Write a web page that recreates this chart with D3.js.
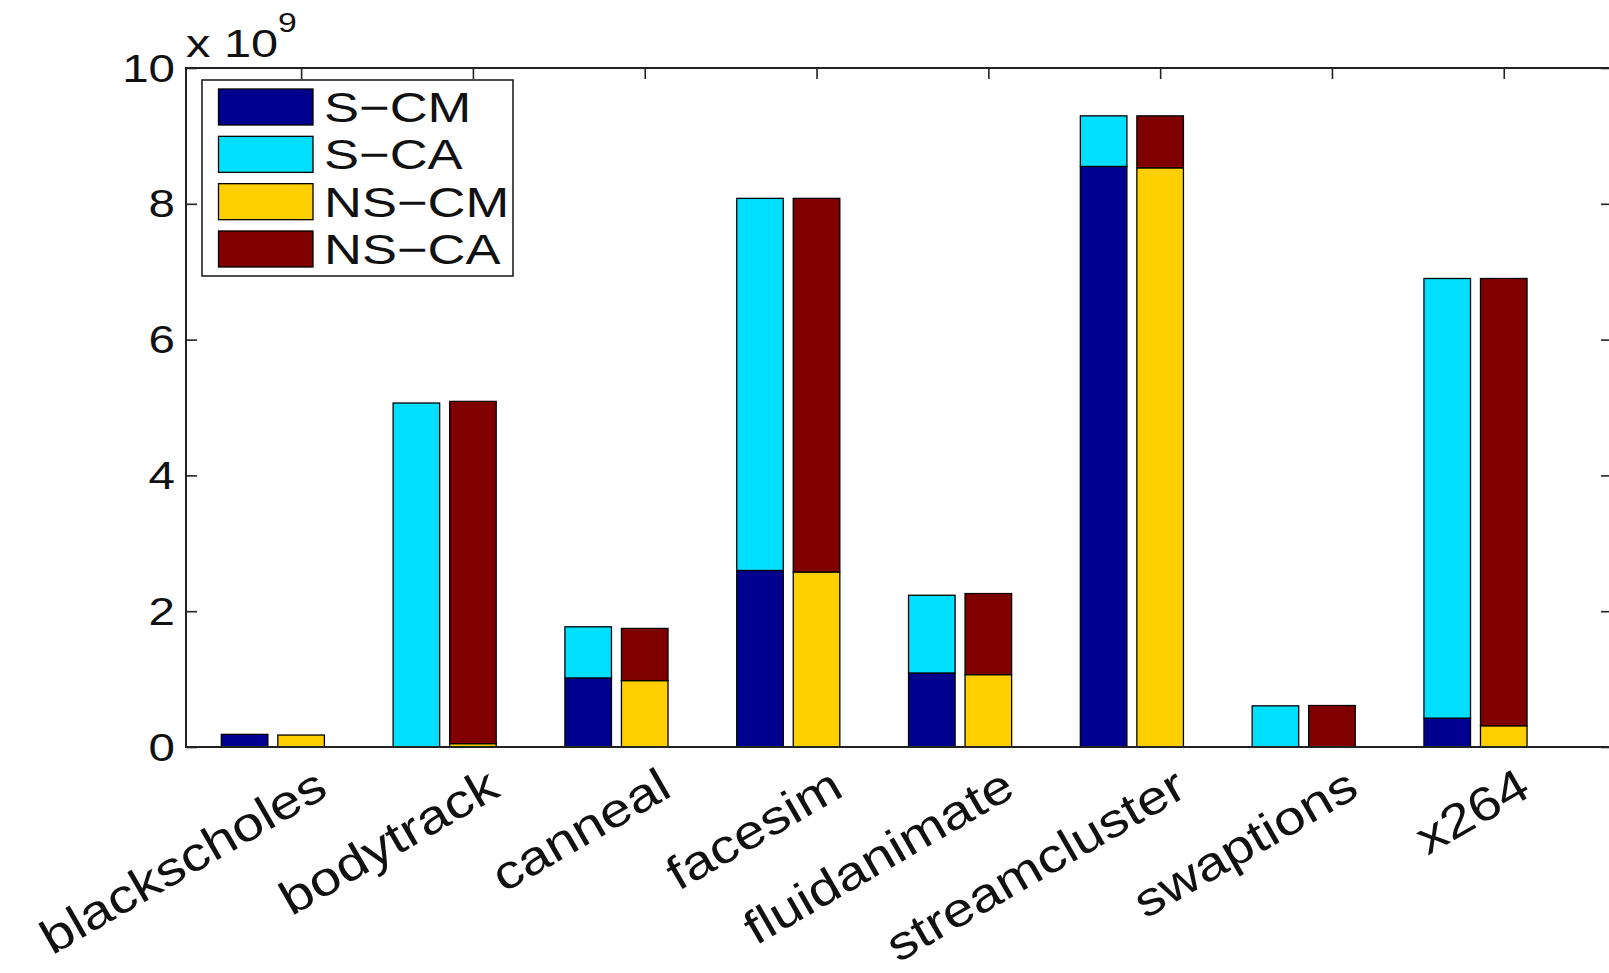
<!DOCTYPE html>
<html>
<head>
<meta charset="utf-8">
<script src="https://cdn.jsdelivr.net/npm/d3@7"></script>
<style>
  html, body { margin: 0; padding: 0; background: #fff; }
  svg { display: block; }
  text { font-family: "Liberation Sans", Arial, Helvetica, sans-serif; fill: #111; }
</style>
</head>
<body>
<svg id="chart" width="1609" height="973"></svg>
<script>
// ---- data (values in units of 10^9) ----
const categories = ["blackscholes", "bodytrack", "canneal", "facesim", "fluidanimate", "streamcluster", "swaptions", "x264"];
const seriesNames = ["S−CM", "S−CA", "NS−CM", "NS−CA"];
const sCM  = [0.186, 0.000, 1.017, 2.600, 1.090, 8.550, 0.000, 0.425];
const sCA  = [0.000, 5.066, 0.753, 5.480, 1.145, 0.745, 0.606, 6.475];
const nsCM = [0.176, 0.050, 0.978, 2.577, 1.066, 8.530, 0.000, 0.313];
const nsCA = [0.000, 5.040, 0.768, 5.503, 1.194, 0.765, 0.611, 6.587];
const yTicks = [0, 2, 4, 6, 8, 10];
const exponentLabel = "9";

const colors = ["#00008F", "#00DFFF", "#FFCF00", "#800000"];

(function () {
// ---- layout ----
const svg = d3.select("#chart");
const mLeft = 186, mRight = 1612, mTop = 68, mBottom = 747;
const sx = 1.25;            // wide text seen in the reference
const tickLen = 11;

const x = d3.scaleLinear().domain([-0.67, 7.63]).range([mLeft, mRight]);
const y = d3.scaleLinear().domain([0, 10]).range([mBottom, mTop]);
const barW = 0.271;         // in group units
const offsets = [-0.329, 0]; // S group, NS group

svg.append("rect").attr("width", 1609).attr("height", 973).attr("fill", "#fff");

// ---- ticks (drawn under the bars) ----
const idx = d3.range(categories.length);
function styleAxis(g) {
  g.select(".domain").remove();
  g.selectAll(".tick line").attr("stroke", "#222").attr("stroke-width", 1.6);
}
svg.append("g").attr("transform", `translate(${mLeft},0)`)
  .call(d3.axisLeft(y).tickValues(yTicks).tickSize(-tickLen).tickFormat(d => d))
  .call(styleAxis)
  .call(g => g.selectAll(".tick text")
    .attr("x", null).attr("dy", null)
    .attr("transform", `translate(-11,13) scale(${sx},1)`)
    .attr("text-anchor", "end")
    .attr("font-size", 38)
    .attr("fill", "#111"));
svg.append("g").attr("transform", `translate(${mRight},0)`)
  .call(d3.axisRight(y).tickValues(yTicks).tickSize(-tickLen).tickFormat(""))
  .call(styleAxis);
svg.append("g").attr("transform", `translate(0,${mTop})`)
  .call(d3.axisTop(x).tickValues(idx).tickSize(-tickLen).tickFormat(""))
  .call(styleAxis);
svg.append("g").attr("transform", `translate(0,${mBottom})`)
  .call(d3.axisBottom(x).tickValues(idx).tickSize(-tickLen).tickFormat(""))
  .call(styleAxis);

// ---- bars ----
const rows = categories.map((c, i) => ({ cat: i, sCM: sCM[i], sCA: sCA[i], nsCM: nsCM[i], nsCA: nsCA[i] }));
const groups = [
  { keys: ["sCM", "sCA"], colorIdx: [0, 1], off: offsets[0] },
  { keys: ["nsCM", "nsCA"], colorIdx: [2, 3], off: offsets[1] }
];
groups.forEach(gr => {
  const stacked = d3.stack().keys(gr.keys)(rows);
  stacked.forEach((layer, li) => {
    svg.append("g")
      .selectAll("rect")
      .data(layer.filter(d => d[1] - d[0] > 0))
      .join("rect")
      .attr("x", d => x(d.data.cat + gr.off - barW / 2))
      .attr("width", d => x(barW) - x(0))
      .attr("y", d => y(d[1]))
      .attr("height", d => y(d[0]) - y(d[1]))
      .attr("fill", colors[gr.colorIdx[li]])
      .attr("stroke", "#000")
      .attr("stroke-width", 1.3);
  });
});

// ---- axes frame ----
svg.append("rect")
  .attr("x", mLeft).attr("y", mTop)
  .attr("width", mRight - mLeft).attr("height", mBottom - mTop)
  .attr("fill", "none").attr("stroke", "#222").attr("stroke-width", 2);

// ---- category labels (rotated) ----
svg.append("g").selectAll("text")
  .data(categories)
  .join("text")
  .attr("text-anchor", "end")
  .attr("font-size", 47.5)
  .attr("transform", (d, i) => `translate(${x(i) + 29},${mBottom + 48}) rotate(-30) scale(1.18,1)`)
  .text(d => d);

// ---- exponent label ----
const expT = svg.append("text")
  .attr("transform", `translate(186,57) scale(${sx},1)`)
  .attr("font-size", 39);
expT.append("tspan").text("x 10");
expT.append("tspan").attr("font-size", 27).attr("dy", -25).text(exponentLabel);

// ---- legend ----
const lg = svg.append("g");
lg.append("rect").attr("x", 202).attr("y", 80).attr("width", 311).attr("height", 196)
  .attr("fill", "#fff").attr("stroke", "#222").attr("stroke-width", 1.6);
const rowY = d3.scaleLinear().domain([0, 3]).range([89, 231]);
seriesNames.forEach((name, i) => {
  lg.append("rect").attr("x", 218.5).attr("y", rowY(i)).attr("width", 94.5).attr("height", 36)
    .attr("fill", colors[i]).attr("stroke", "#000").attr("stroke-width", 1.3);
  lg.append("text")
    .attr("transform", `translate(324,${rowY(i) + 33}) scale(${sx},1)`)
    .attr("font-size", 42)
    .text(name);
});
})();
</script>
</body>
</html>
